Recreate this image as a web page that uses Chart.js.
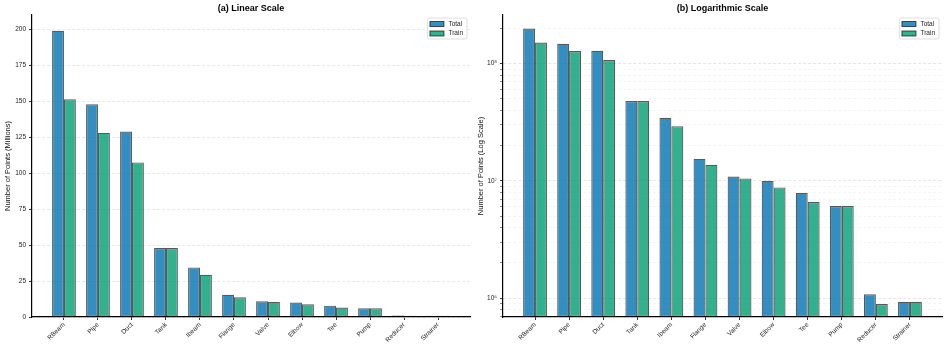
<!DOCTYPE html>
<html>
<head>
<meta charset="utf-8">
<script src="https://cdn.jsdelivr.net/npm/chart.js@4"></script>
<style>
  html, body { margin: 0; padding: 0; background: #fff; }
  #wrap { display: flex; width: 947px; height: 350px; }
  canvas { display: block; }
</style>
</head>
<body>
<div id="wrap">
  <canvas id="linChart" width="473" height="350"></canvas>
  <canvas id="logChart" width="474" height="350"></canvas>
</div>
<script>
// point counts per class, in millions
const CATEGORIES    = ['RBeam', 'Pipe', 'Duct', 'Tank', 'Ibeam', 'Flange', 'Valve', 'Elbow', 'Tee', 'Pump', 'Reducer', 'Strainer'];
const TOTAL_M       = [199, 148, 129, 48, 34.5, 15.4, 10.9, 10.0, 7.9, 6.1, 1.08, 0.93];
const TRAIN_M       = [151.5, 128, 107.5, 48, 29.3, 13.7, 10.5, 8.8, 6.6, 6.1, 0.89, 0.93];
const SERIES_LABELS = ['Total', 'Train'];
const LINEAR_TICKS  = [0, 25, 50, 75, 100, 125, 150, 175, 200];

const COLORS = ['rgba(0,114,178,0.8)', 'rgba(0,158,115,0.8)'];
const EDGE   = 'rgba(0,0,0,0.65)';
const FONT   = '"Liberation Sans", Arial, sans-serif';
const SUP    = ['⁰','¹','²','³','⁴','⁵','⁶','⁷','⁸','⁹'];

Chart.defaults.font.family = FONT;
Chart.defaults.color = '#222';

// ── legend box drawn inside the plot, upper right
const insideLegend = {
  id: 'insideLegend',
  afterDraw(chart) {
    const { ctx, chartArea } = chart;
    const sets = chart.data.datasets;
    ctx.save();
    ctx.font = '6.5px ' + FONT;
    const textW = Math.max(...sets.map(d => ctx.measureText(d.label).width));
    const rowH = 9.5;
    const w = 21 + textW + 4;
    const h = sets.length * rowH + 2;
    const x = chartArea.right - 3 - w;
    const y = chartArea.top + 3;
    ctx.fillStyle = 'rgba(255,255,255,0.85)';
    ctx.strokeStyle = '#d6d6d6';
    ctx.lineWidth = 0.8;
    ctx.beginPath();
    ctx.roundRect(x, y, w, h, 2);
    ctx.fill();
    ctx.stroke();
    sets.forEach((d, i) => {
      const cy = y + 6 + i * rowH;
      ctx.fillStyle = d.backgroundColor;
      ctx.fillRect(x + 2.5, cy - 2.5, 14, 5);
      ctx.strokeStyle = d.borderColor;
      ctx.lineWidth = 1;
      ctx.strokeRect(x + 2.5, cy - 2.5, 14, 5);
      ctx.fillStyle = '#222';
      ctx.textBaseline = 'middle';
      ctx.fillText(d.label, x + 21, cy);
    });
    ctx.restore();
  }
};

function buildDatasets(mult) {
  return [TOTAL_M, TRAIN_M].map((vals, k) => ({
    label          : SERIES_LABELS[k],
    data           : vals.map((v, i) => ({ x: i, y: v * mult })),
    backgroundColor: COLORS[k],
    borderColor    : EDGE,
    borderWidth    : 1.2,
    borderSkipped  : false,
    categoryPercentage: 0.7,
    barPercentage  : 1.0
  }));
}

function xScale() {
  return {
    type  : 'linear',
    min   : -0.94,
    max   : 11.94,
    offset: false,
    afterBuildTicks: s => { s.ticks = CATEGORIES.map((_, i) => ({ value: i })); },
    afterFit: s => { s.height = 33; },
    ticks: {
      autoSkip: false, minRotation: 45, maxRotation: 45, padding: 1,
      font: { size: 6.5 }, color: '#222',
      callback: (v, i) => CATEGORIES[i]
    },
    grid  : { offset: false, drawOnChartArea: false, tickLength: 3, tickColor: '#000', tickWidth: 0.8 },
    border: { color: '#000', width: 1.2 }
  };
}

function chartOptions(title, yScale, padRight) {
  return {
    responsive: false,
    animation : false,
    layout    : { padding: { left: 0, right: padRight, top: 0, bottom: 0 } },
    plugins: {
      legend : { display: false },
      tooltip: { enabled: false },
      title  : {
        display: true, text: title, fullSize: false, color: '#000',
        font: { size: 9, weight: 'bold' }, padding: { top: 3, bottom: 1.2 }
      }
    },
    scales: { x: xScale(), y: yScale }
  };
}

// ── (a) linear
new Chart(document.getElementById('linChart'), {
  type: 'bar',
  data: { datasets: buildDatasets(1) },
  options: chartOptions('(a) Linear Scale', {
    type: 'linear',
    min : 0,
    max : 210,
    afterBuildTicks: s => { s.ticks = LINEAR_TICKS.map(v => ({ value: v })); },
    afterFit: s => { s.width = 32; },
    ticks : { font: { size: 6.5 }, color: '#222', padding: 3 },
    grid  : { color: '#e2e2e2', lineWidth: 0.8, tickColor: '#000', tickLength: 3, tickWidth: 0.8 },
    border: { color: '#000', width: 1.2, dash: [3, 2] },
    title : {
      display: true, text: 'Number of Points (Millions)', color: '#111',
      font: { size: 7.5 }, padding: { top: 3, bottom: 0 }
    }
  }, 3),
  plugins: [insideLegend]
});

// ── (b) log
const isDecade = v => Math.abs(Math.log10(v) - Math.round(Math.log10(v))) < 1e-9;

new Chart(document.getElementById('logChart'), {
  type: 'bar',
  data: { datasets: buildDatasets(1e6) },
  options: chartOptions('(b) Logarithmic Scale', {
    type: 'logarithmic',
    min : 6.9e5,
    max : 2.6e8,
    afterBuildTicks: s => {
      const t = [];
      for (let e = 5; e <= 8; e++) {
        for (let m = 1; m <= 9; m++) {
          const v = m * Math.pow(10, e);
          if (v > s.min && v < s.max) t.push({ value: v });
        }
      }
      s.ticks = t;
    },
    afterFit: s => { s.width = 30; },
    ticks : {
      autoSkip: false, font: { size: 6.5 }, color: '#222', padding: 3,
      callback: v => isDecade(v) ? '10' + SUP[Math.round(Math.log10(v))] : ''
    },
    grid  : {
      color    : c => isDecade(c.tick.value) ? '#dedede' : '#f1f1f1',
      lineWidth: 0.8,
      tickColor: c => isDecade(c.tick.value) ? '#000' : '#666',
      tickLength: 3, tickWidth: 0.8
    },
    border: { color: '#000', width: 1.2, dash: [3, 2] },
    title : {
      display: true, text: 'Number of Points (Log Scale)', color: '#111',
      font: { size: 7.5 }, padding: { top: 3, bottom: 0 }
    }
  }, 5),
  plugins: [insideLegend]
});
</script>
</body>
</html>
